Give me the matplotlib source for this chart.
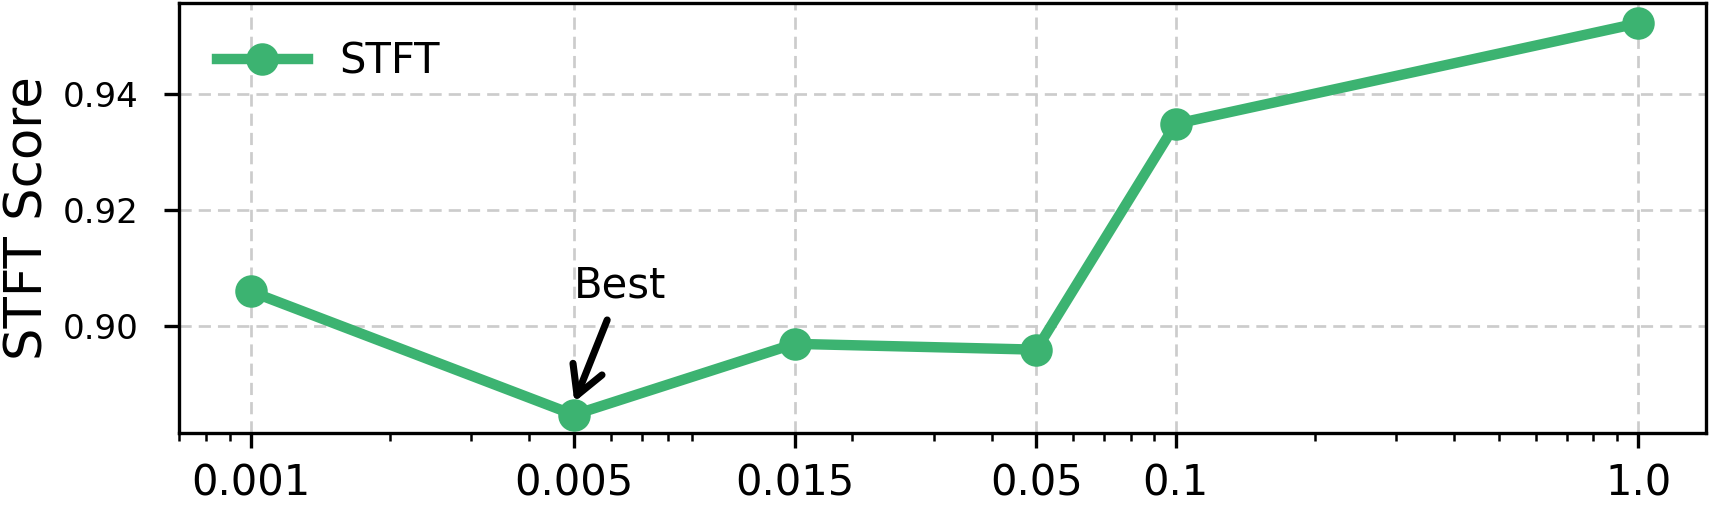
import matplotlib
matplotlib.use("Agg")
import matplotlib.pyplot as plt
from matplotlib.ticker import NullFormatter

# values
lrs = [0.001, 0.005, 0.015, 0.05, 0.1, 1.0]
lr_labels = ["0.001", "0.005", "0.015", "0.05", "0.1", "1.0"]
stft_scores = [0.9060, 0.8848, 0.8970, 0.8960, 0.9348, 0.9521]
y_ticks = [0.90, 0.92, 0.94]

green = "#3cb371"

fig = plt.figure(figsize=(5.7, 1.72), dpi=300)
ax = fig.add_axes([0.1047, 0.160, 0.8928, 0.8333])

ax.plot(lrs, stft_scores, color=green, lw=2.5, marker="o", markersize=6.8,
        label="STFT", zorder=3)

ax.set_xscale("log")
ax.set_xlim(0.0007, 1.4)
ax.set_ylim(0.8816, 0.9555)
ax.set_xticks(lrs)
ax.set_xticklabels(lr_labels, fontsize=10)
ax.xaxis.set_minor_formatter(NullFormatter())
ax.set_yticks(y_ticks)
ax.set_yticklabels(["%.2f" % v for v in y_ticks], fontsize=8.2)
ax.tick_params(axis="y", pad=6.3)
ax.set_ylabel("STFT Score", fontsize=12.3)
ax.yaxis.set_label_coords(-0.082, 0.5)

ax.grid(True, which="major", color="#cccccc", lw=0.65, linestyle=(0, (4.5, 2.6)))
ax.set_axisbelow(True)

ax.text(0.005, 0.905, "Best", fontsize=10, ha="left", va="baseline")
ax.annotate("", xy=(0.00501, 0.8870), xytext=(0.0059, 0.9011),
            arrowprops=dict(arrowstyle="->,head_length=0.45,head_width=0.25",
                            color="black", lw=1.7, mutation_scale=15,
                            shrinkA=0, shrinkB=0))

ax.legend(loc="upper left", frameon=False, fontsize=10, handlelength=2.2,
          handletextpad=0.75)

fig.savefig("out.png", dpi=300)
